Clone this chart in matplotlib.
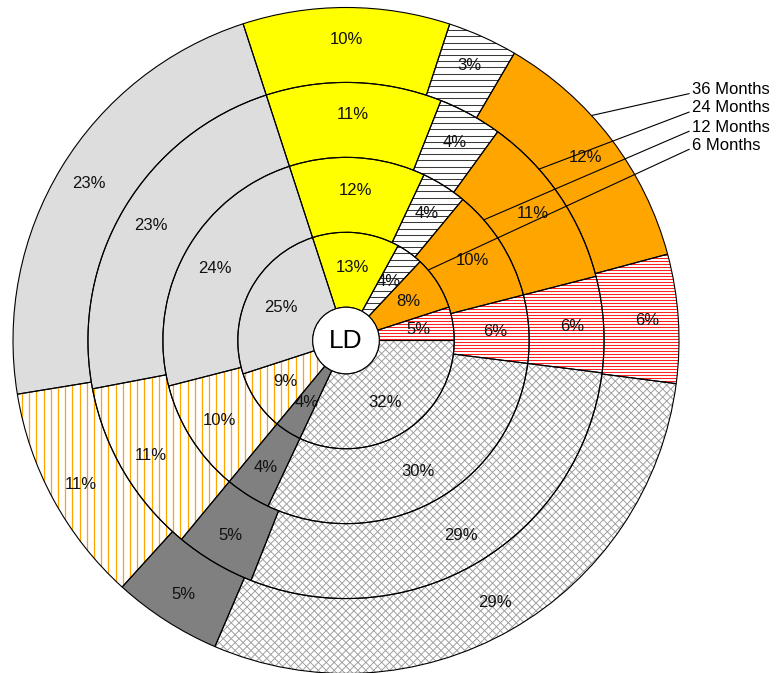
import numpy as np
import matplotlib
matplotlib.use("Agg")
import matplotlib.pyplot as plt
from matplotlib.collections import LineCollection

plt.rcParams['font.family'] = ['Liberation Sans', 'DejaVu Sans']

# series (rings from inside out) and their shares, clockwise from the yellow slice
ringNames = ["6 Months", "12 Months", "24 Months", "36 Months"]
sixMonths = [13, 4, 8, 5, 32, 4, 9, 25]
twelveMonths = [12, 4, 10, 6, 30, 4, 10, 24]
twentyFourMonths = [11, 4, 11, 6, 29, 5, 11, 23]
thirtySixMonths = [10.05, 3.4, 12.4, 6.25, 29.4, 5.3, 10.7, 22.6]
centerLabel = "LD"

# looks of the eight slices: face colour and hatch kind
faceColors = ["#FFFF00", "white", "#FFA500", "white", "white", "#808080", "white", "#DDDDDD"]
hatchKinds = [None, "h", None, "hr", "x", None, "v", None]

pxPerUnit = 333.0
centerPx = (346.0, 340.5)
holeSize = 0.1
ringWidth = 0.225
startAngle = 108

labelRadius = [0.22, 0.45, 0.68, 0.905]
leaderAngles = [49.4, 48.8, 48.4, 47.5]

def hatchWedge (ax, wedge, kind):

	if kind == "h":
		step, color, lw = 6.2, "#3a3a3a", 0.75
	elif kind == "hr":
		step, color, lw = 3.0, "#FF2020", 0.75
	elif kind == "v":
		step, color, lw = 7.2, "#FFA500", 0.9
	else:
		step, color, lw = 5.6, "#9a9a9a", 0.65

	offs = np.arange(-1.6, 1.6, step / pxPerUnit)
	segs = []

	if kind in ("h", "hr"):
		segs = [[(-1.6, o), (1.6, o)] for o in offs]
	elif kind == "v":
		segs = [[(o, -1.6), (o, 1.6)] for o in offs]
	else:
		d = np.sqrt(2)
		segs = [[(-1.6, -1.6 + o * d), (1.6, 1.6 + o * d)] for o in offs]
		segs += [[(-1.6, 1.6 + o * d), (1.6, -1.6 + o * d)] for o in offs]

	lc = LineCollection(segs, colors = color, linewidths = lw, zorder = 2)
	ax.add_collection(lc)
	lc.set_clip_path(wedge)

fig = plt.figure(figsize = (7.77, 6.73), dpi = 100)
ax = fig.add_axes([0, 0, 1, 1])

rings = [sixMonths, twelveMonths, twentyFourMonths, thirtySixMonths]

for i in range(len(rings)):

	vals = rings[i]
	outer = holeSize + ringWidth * (i + 1)

	wedges, _ = ax.pie(vals, radius = outer, startangle = startAngle, counterclock = False,
		colors = faceColors, wedgeprops = dict(width = ringWidth, linewidth = 0, zorder = 1))

	for w, kind in zip(wedges, hatchKinds):

		if kind is not None:
			hatchWedge(ax, w, kind)

	ax.pie(vals, radius = outer, startangle = startAngle, counterclock = False,
		wedgeprops = dict(width = ringWidth, facecolor = "none", edgecolor = "black", linewidth = 0.8, zorder = 3))

	total = float(sum(vals))
	cum = np.cumsum([0] + list(vals)) / total * 360.0

	for k in range(len(vals)):

		mid = np.radians(startAngle - (cum[k] + cum[k + 1]) / 2)
		r = labelRadius[i]
		ax.text(r * np.cos(mid), r * np.sin(mid), f"{round(vals[k])}%", ha = "center", va = "center",
			fontsize = 12, color = "#111111", zorder = 5)

hole = plt.Circle((0, 0), holeSize, facecolor = "white", edgecolor = "black", linewidth = 0.8, zorder = 4)
ax.add_patch(hole)
ax.text(0, 0, centerLabel, ha = "center", va = "center", fontsize = 19, zorder = 5)

# series name call-outs at the upper right
nameX = (692 - centerPx[0]) / pxPerUnit
nameY = [(centerPx[1] - y) / pxPerUnit for y in [145, 127, 108, 90]]

for i in range(len(ringNames)):

	outer = holeSize + ringWidth * (i + 1)
	a = np.radians(90 - leaderAngles[i])
	ax.annotate(ringNames[i], xy = (outer * np.cos(a), outer * np.sin(a)),
		xytext = (nameX, nameY[i]), ha = "left", va = "center", fontsize = 12, zorder = 6,
		arrowprops = dict(arrowstyle = "-", color = "black", lw = 0.8, shrinkA = 0, shrinkB = 0, relpos = (0, 0.3)))

ax.set_aspect("auto")
ax.set_xlim(-centerPx[0] / pxPerUnit, (777 - centerPx[0]) / pxPerUnit)
ax.set_ylim((centerPx[1] - 673) / pxPerUnit, centerPx[1] / pxPerUnit)
ax.axis("off")

fig.savefig("out.png", dpi = 100)
